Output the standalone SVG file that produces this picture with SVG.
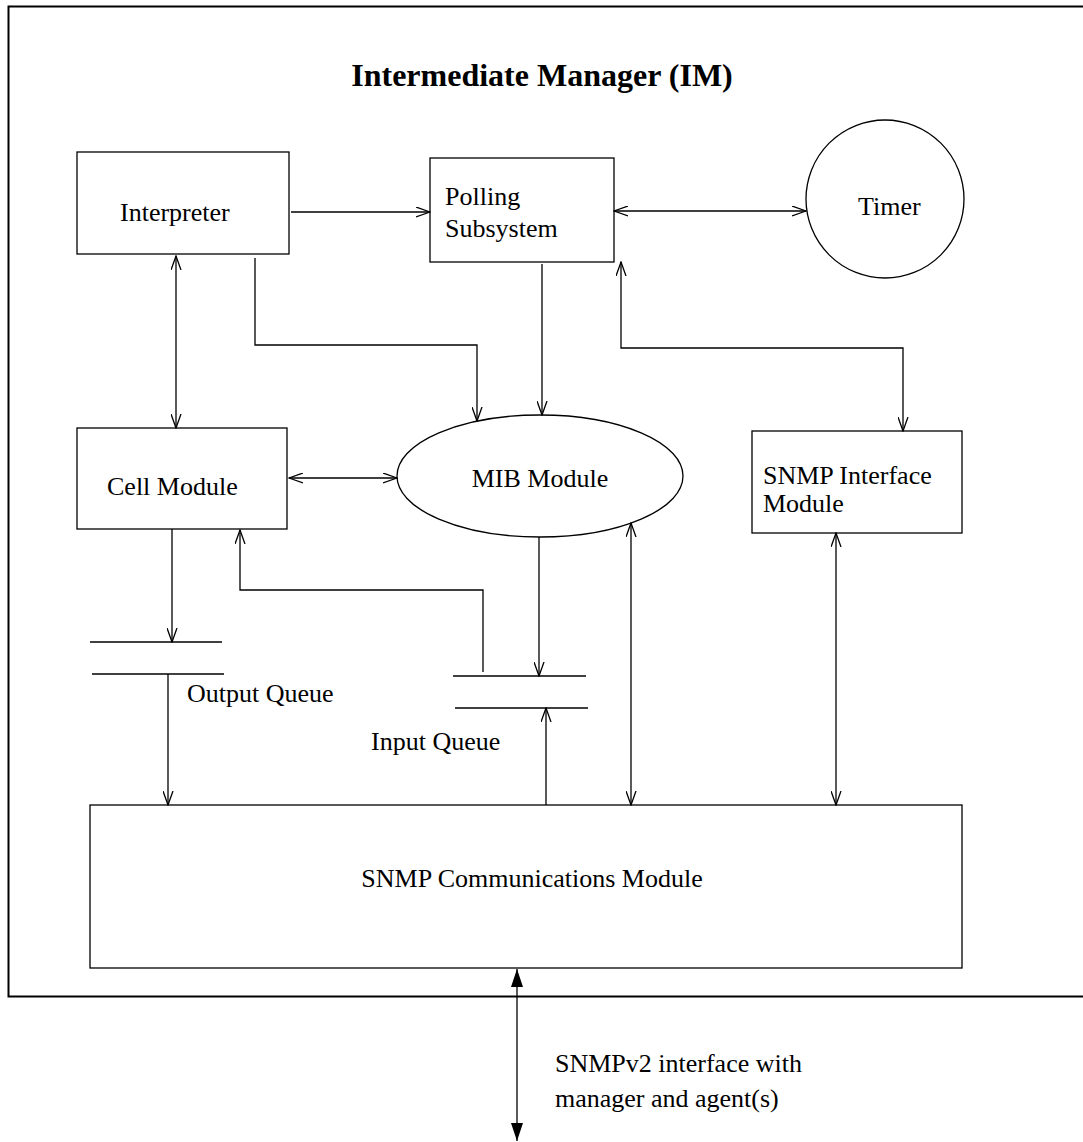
<svg xmlns="http://www.w3.org/2000/svg" width="1083" height="1142" viewBox="0 0 1083 1142">
<style>
.box{fill:none;stroke:#000;stroke-width:1.3}
.ln{fill:none;stroke:#000;stroke-width:1.3}
.t{font-family:"Liberation Serif","Times New Roman",serif;font-size:26px;fill:#000}
.title{font-family:"Liberation Serif","Times New Roman",serif;font-size:32px;font-weight:bold;fill:#000}
</style>
<defs>
<marker id="open" viewBox="0 0 15 11" refX="14" refY="5.5" markerWidth="15" markerHeight="11" markerUnits="userSpaceOnUse" orient="auto-start-reverse">
<path d="M0,0.5 L14,5.5 L0,10.5" fill="none" stroke="#000" stroke-width="1.3"/>
</marker>
<marker id="solid" viewBox="0 0 18 12" refX="18" refY="6" markerWidth="18" markerHeight="12" markerUnits="userSpaceOnUse" orient="auto-start-reverse">
<path d="M0,0 L18,6 L0,12 Z" fill="#000"/>
</marker>
</defs>
<rect id="frame" x="8.5" y="6.5" width="1090" height="990" fill="none" stroke="#000" stroke-width="2"/>
<text class="title" x="542" y="86" text-anchor="middle">Intermediate Manager (IM)</text>
<g id="interpreter"><rect class="box" x="77" y="152" width="212" height="102"/><text class="t" x="120" y="221">Interpreter</text></g>
<g id="polling"><rect class="box" x="430" y="158" width="184" height="104"/><text class="t" x="445" y="205">Polling</text><text class="t" x="445" y="237">Subsystem</text></g>
<g id="timer"><circle class="box" cx="885" cy="199" r="79"/><text class="t" x="858" y="215">Timer</text></g>
<g id="cell"><rect class="box" x="77" y="428" width="210" height="101"/><text class="t" x="107" y="495">Cell Module</text></g>
<g id="mib"><ellipse class="box" cx="540" cy="476" rx="143" ry="61"/><text class="t" x="540" y="487" text-anchor="middle">MIB Module</text></g>
<g id="snmpif"><rect class="box" x="752" y="431" width="210" height="102"/><text class="t" x="763" y="484">SNMP Interface</text><text class="t" x="763" y="512">Module</text></g>
<g id="outq"><line class="ln" x1="90" y1="642" x2="222" y2="642"/><line class="ln" x1="92" y1="674" x2="224" y2="674"/><text class="t" x="187" y="702">Output Queue</text></g>
<g id="inq"><line class="ln" x1="453" y1="676" x2="586" y2="676"/><line class="ln" x1="455" y1="708" x2="588" y2="708"/><text class="t" x="371" y="750">Input Queue</text></g>
<g id="snmpcomm"><rect class="box" x="90" y="805" width="872" height="163"/><text class="t" x="532" y="887" text-anchor="middle">SNMP Communications Module</text></g>
<g id="connectors">
<line class="ln" x1="291" y1="212" x2="430" y2="212" marker-end="url(#open)"/>
<line class="ln" x1="614" y1="211" x2="806" y2="211" marker-start="url(#open)" marker-end="url(#open)"/>
<line class="ln" x1="176" y1="256" x2="176" y2="428" marker-start="url(#open)" marker-end="url(#open)"/>
<path class="ln" d="M255,258 V345 H477 V421" marker-end="url(#open)"/>
<line class="ln" x1="542" y1="264" x2="542" y2="415" marker-end="url(#open)"/>
<path class="ln" d="M621,262 V348 H903 V431" marker-start="url(#open)" marker-end="url(#open)"/>
<line class="ln" x1="289" y1="478" x2="397" y2="478" marker-start="url(#open)" marker-end="url(#open)"/>
<line class="ln" x1="172" y1="529" x2="172" y2="642" marker-end="url(#open)"/>
<path class="ln" d="M483,672 V590 H240 V530" marker-end="url(#open)"/>
<line class="ln" x1="539" y1="537" x2="539" y2="676" marker-end="url(#open)"/>
<line class="ln" x1="168" y1="674" x2="168" y2="805" marker-end="url(#open)"/>
<line class="ln" x1="546" y1="805" x2="546" y2="708" marker-end="url(#open)"/>
<line class="ln" x1="631" y1="805" x2="631" y2="523" marker-end="url(#open)" marker-start="url(#open)"/>
<line class="ln" x1="836" y1="533" x2="836" y2="805" marker-start="url(#open)" marker-end="url(#open)"/>
<line class="ln" x1="517" y1="969" x2="517" y2="1141" marker-start="url(#solid)" marker-end="url(#solid)"/>
</g>
<text class="t" x="555" y="1072">SNMPv2 interface with</text>
<text class="t" x="555" y="1107">manager and agent(s)</text>
</svg>
